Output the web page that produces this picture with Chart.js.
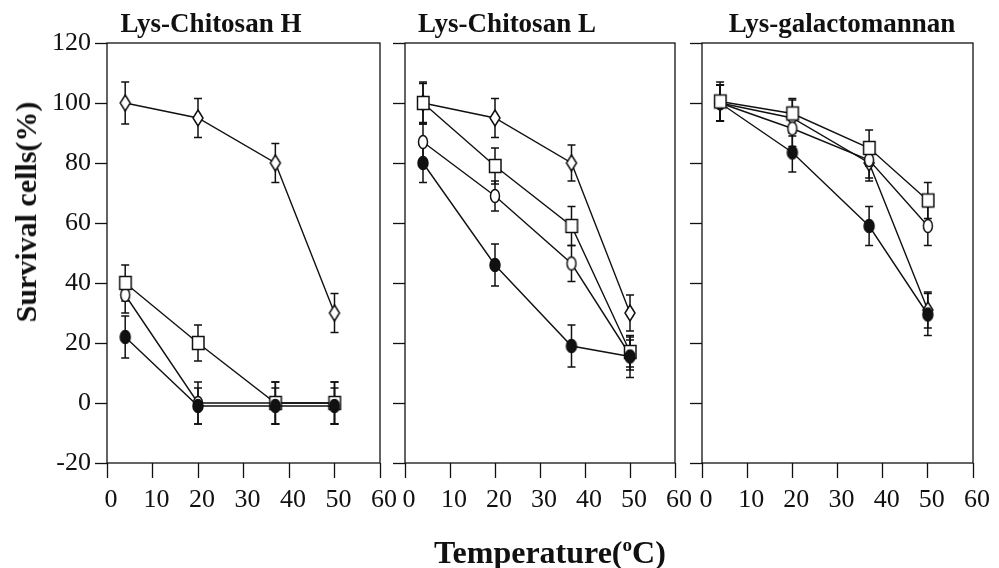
<!DOCTYPE html>
<html>
<head>
<meta charset="utf-8">
<script src="https://cdn.jsdelivr.net/npm/chart.js@4.4.1/dist/chart.umd.min.js"></script>
<style>
  body { margin:0; background:#fff; width:999px; height:568px; position:relative; overflow:hidden; font-family:'Liberation Serif', 'Times New Roman', serif; color:#111; }
  .box { position:absolute; top:0; height:568px; }
  .ttl { position:absolute; font-weight:bold; white-space:nowrap; text-align:center; }
</style>
</head>
<body>
<div class="box" style="left:0;width:400px"><canvas id="c1" width="400" height="568"></canvas></div>
<div class="box" style="left:380px;width:315px"><canvas id="c2" width="315" height="568"></canvas></div>
<div class="box" style="left:677px;width:322px"><canvas id="c3" width="322" height="568"></canvas></div>

<div class="ttl" id="t1" style="left:61px;width:300px;top:10px;font-size:27px;line-height:27px"></div>
<div class="ttl" id="t2" style="left:357px;width:300px;top:10px;font-size:27px;line-height:27px"></div>
<div class="ttl" id="t3" style="left:692px;width:300px;top:10px;font-size:27px;line-height:27px"></div>
<div class="ttl" style="left:26px;top:212px;font-size:30px;line-height:30px;transform:translate(-50%,-50%) rotate(-90deg)">Survival cells(%)</div>
<div class="ttl" style="left:400px;width:300px;top:536px;font-size:32px;line-height:32px">Temperature(<sup style="font-size:60%;vertical-align:0.6em;line-height:0">o</sup>C)</div>

<script>
// temperatures (oC) at which survival was measured
const temps = [4, 20, 37, 50];
const panelTitles = ['Lys-Chitosan H', 'Lys-Chitosan L', 'Lys-galactomannan'];

// Lys-Chitosan H
const hDiamond = [100, 95, 80, 30];
const hDiamondErr = [7, 6.5, 6.5, 6.5];
const hSquare = [40, 20, 0, 0];
const hSquareErr = [6, 6, 7, 7];
const hCircle = [36, 0, 0, 0];
const hCircleErr = [6, 7, 7, 7];
const hDot = [22, -1, -1, -1];
const hDotErr = [7, 6, 6, 6];

// Lys-Chitosan L
const lDiamond = [100, 95, 80, 30];
const lDiamondErr = [7, 6.5, 6, 6];
const lSquare = [100, 79, 59, 17];
const lSquareErr = [6.5, 6, 6.5, 5];
const lCircle = [87, 69, 46.5, 16];
const lCircleErr = [6, 5, 6, 5];
const lDot = [80, 46, 19, 15.5];
const lDotErr = [6.5, 7, 7, 7];

// Lys-galactomannan
const gDiamond = [100, 95, 80, 31];
const gDiamondErr = [6, 6, 6, 6];
const gSquare = [100.5, 96.5, 85, 67.5];
const gSquareErr = [6.5, 5, 6, 6];
const gCircle = [100, 91.5, 81, 59];
const gCircleErr = [6, 6, 6, 6.5];
const gDot = [100, 83.5, 59, 29.5];
const gDotErr = [6, 6.5, 6.5, 7];

const ink = '#111';
const tickFont = { family: 'Liberation Serif', size: 26 };

function marker(kind) {
    const c = document.createElement('canvas');
    c.width = 16; c.height = 18;
    const g = c.getContext('2d');
    g.lineWidth = 1.5;
    g.strokeStyle = ink;
    g.fillStyle = '#fff';
    g.beginPath();
    if (kind === 'diamond') {
        g.moveTo(8, 1); g.lineTo(13, 9); g.lineTo(8, 17); g.lineTo(3, 9); g.closePath();
    } else if (kind === 'square') {
        g.rect(2.5, 2.5, 11.5, 13);
    } else {
        g.ellipse(8, 9, kind === 'dot' ? 5 : 4.5, 6.5, 0, 0, Math.PI * 2);
        if (kind === 'dot') g.fillStyle = ink;
    }
    g.fill();
    g.stroke();
    return c;
}

const marks = { diamond: marker('diamond'), square: marker('square'), circle: marker('circle'), dot: marker('dot') };
// lower order is painted on top: filled dots, then squares, circles, diamonds
const layer = { dot: 0, square: 1, circle: 2, diamond: 3 };

function series(vals, errs, kind, order) {
    return {
        data: temps.map((t, i) => ({ x: t, y: vals[i] })),
        err: errs,
        order: order !== undefined ? order : layer[kind],
        showLine: true,
        borderColor: ink,
        borderWidth: 1.4,
        pointStyle: marks[kind],
        pointRadius: 5,
        pointHoverRadius: 5
    };
}

// error bars + panel frame, drawn under the lines and markers
const errorBars = {
    id: 'errorBars',
    beforeDatasetsDraw(chart) {
        const ctx = chart.ctx, ys = chart.scales.y, a = chart.chartArea;
        ctx.save();
        ctx.strokeStyle = ink;
        ctx.lineWidth = 1.3;
        ctx.strokeRect(a.left, a.top, a.right - a.left, a.bottom - a.top);
        ctx.lineWidth = 1.5;
        chart.data.datasets.forEach((ds, i) => {
            chart.getDatasetMeta(i).data.forEach((pt, j) => {
                const v = ds.data[j].y, e = ds.err[j];
                const top = ys.getPixelForValue(v + e), bot = ys.getPixelForValue(v - e);
                ctx.beginPath();
                ctx.moveTo(pt.x, top); ctx.lineTo(pt.x, bot);
                ctx.moveTo(pt.x - 4, top); ctx.lineTo(pt.x + 4, top);
                ctx.moveTo(pt.x - 4, bot); ctx.lineTo(pt.x + 4, bot);
                ctx.stroke();
            });
        });
        ctx.restore();
    }
};

function makeChart(id, sets, yWidth, rightPad, showY) {
    return new Chart(document.getElementById(id), {
        type: 'scatter',
        data: { datasets: sets },
        plugins: [errorBars],
        options: {
            responsive: false,
            animation: false,
            layout: { padding: { top: 43, right: rightPad, bottom: 45, left: 0 } },
            plugins: { legend: { display: false }, tooltip: { enabled: false } },
            scales: {
                x: {
                    type: 'linear', min: 0, max: 60,
                    ticks: { stepSize: 10, color: ink, font: tickFont, padding: 7, labelOffset: 4, maxRotation: 0, autoSkip: false },
                    grid: { drawOnChartArea: false, tickLength: 15, tickColor: ink, tickWidth: 1.3 },
                    border: { display: false },
                    afterFit(s) { s.height = 60; }
                },
                y: {
                    min: -20, max: 120,
                    ticks: { stepSize: 20, color: ink, font: tickFont, padding: 4, callback: v => showY ? v : '' },
                    grid: { drawOnChartArea: false, tickLength: 12, tickColor: ink, tickWidth: 1.3 },
                    border: { display: false },
                    afterFit(s) { s.width = yWidth; }
                }
            }
        }
    });
}

['t1', 't2', 't3'].forEach((id, i) => { document.getElementById(id).textContent = panelTitles[i]; });

makeChart('c1', [
    series(hDiamond, hDiamondErr, 'diamond'),
    series(hSquare, hSquareErr, 'square'),
    series(hCircle, hCircleErr, 'circle'),
    series(hDot, hDotErr, 'dot')
], 107, 18, true);

makeChart('c2', [
    series(lDiamond, lDiamondErr, 'diamond'),
    series(lSquare, lSquareErr, 'square'),
    series(lCircle, lCircleErr, 'circle'),
    series(lDot, lDotErr, 'dot')
], 25, 17, false);

// in this panel the squares sit on top of the other markers
makeChart('c3', [
    series(gDiamond, gDiamondErr, 'diamond'),
    series(gSquare, gSquareErr, 'square', -1),
    series(gCircle, gCircleErr, 'circle'),
    series(gDot, gDotErr, 'dot')
], 25, 26, false);
</script>
</body>
</html>
